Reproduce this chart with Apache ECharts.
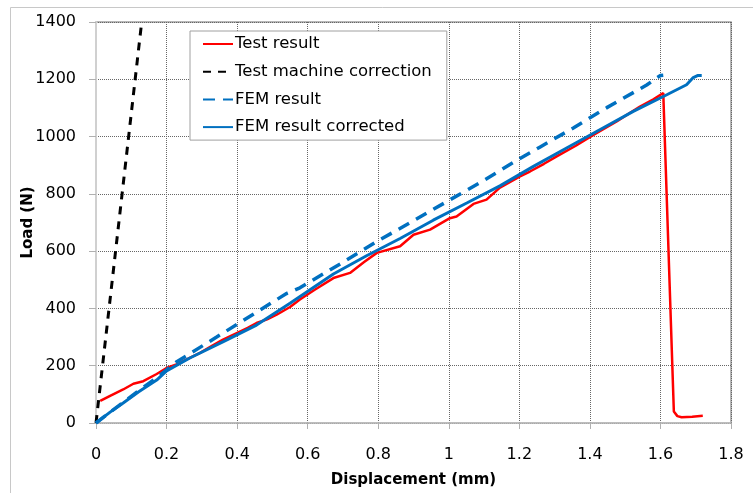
<!DOCTYPE html>
<html>
<head>
<meta charset="utf-8">
<script src="https://cdn.jsdelivr.net/npm/echarts@6/dist/echarts.min.js"></script>
<style>
html,body{margin:0;padding:0;background:#fff;}
#chart{width:753px;height:493px;}
</style>
</head>
<body>
<div id="chart"></div>
<script>
// ---- Data ----
const seriesNames = ['Test result', 'Test machine correction', 'FEM result', 'FEM result corrected'];
const xTicks = [0, 0.2, 0.4, 0.6, 0.8, 1, 1.2, 1.4, 1.6, 1.8];
const yTicks = [0, 200, 400, 600, 800, 1000, 1200, 1400];

const testResult = [
  [0.012,77],[0.04,95],[0.077,117],[0.106,137],[0.134,146],[0.172,171],[0.2,192],[0.23,205],
  [0.257,222],[0.295,245],[0.33,270],[0.36,291],[0.399,314],[0.43,332],[0.455,349],[0.485,362],
  [0.512,378],[0.55,405],[0.578,431],[0.62,465],[0.673,506],[0.72,524],[0.76,562],[0.796,594],
  [0.862,617],[0.9,657],[0.947,675],[1.003,715],[1.022,721],[1.07,765],[1.107,780],[1.145,822],
  [1.202,861],[1.23,878],[1.27,905],[1.306,931],[1.36,968],[1.41,1006],[1.476,1053],[1.542,1105],
  [1.58,1130],[1.608,1152],[1.613,1155],[1.638,40],[1.648,24],[1.66,20],[1.69,22],[1.72,25]
];
const machineCorrection = [[0,0],[0.1295,1400]];
const femResult = [
  [0,0],[0.04,38],[0.077,72],[0.12,112],[0.172,158],[0.229,214],[0.342,300],[0.446,380],
  [0.54,452],[0.578,472],[0.701,562],[0.805,640],[0.9,706],[1.003,779],[1.098,846],[1.197,920],
  [1.258,963],[1.353,1030],[1.448,1101],[1.561,1180],[1.59,1205],[1.6,1213],[1.608,1214]
];
const femCorrected = [
  [0,0],[0.04,38],[0.077,70],[0.12,108],[0.172,150],[0.2,182],[0.266,227],[0.361,284],
  [0.455,342],[0.55,418],[0.673,520],[0.767,584],[0.862,644],[0.956,708],[1.051,768],
  [1.145,828],[1.24,896],[1.334,960],[1.428,1024],[1.523,1088],[1.618,1146],[1.674,1181],
  [1.693,1206],[1.705,1213],[1.717,1213]
];

const FONT = 'DejaVu Sans';
const chart = echarts.init(document.getElementById('chart'), null, {renderer: 'canvas'});
const option = {
  animation: false,
  backgroundColor: '#fff',
  graphic: [{
    type: 'rect', silent: true, z: -10,
    shape: {x: 10.5, y: 7.5, width: 900, height: 700},
    style: {fill: 'none', stroke: '#c8c8c8', lineWidth: 1}
  }],
  grid: {
    left: 96, right: 22, top: 22, bottom: 69,
    show: true, borderColor: '#a0a0a0', borderWidth: 1.5, backgroundColor: 'transparent'
  },
  legend: {
    data: seriesNames,
    orient: 'vertical',
    left: 190, top: 31,
    padding: [4, 15, 4, 12],
    itemWidth: 30, itemHeight: 14, itemGap: 9.7,
    itemStyle: {opacity: 0},
    backgroundColor: '#fff',
    borderColor: '#a0a0a0', borderWidth: 1,
    textStyle: {fontFamily: FONT, fontSize: 16.5, lineHeight: 18, color: '#000', padding: [0,0,0,-3]}
  },
  xAxis: {
    type: 'value', min: 0, max: 1.8, interval: 0.2,
    name: 'Displacement (mm)', nameLocation: 'middle', nameGap: 50, nameMoveOverlap: false,
    nameTextStyle: {fontFamily: FONT, fontSize: 15, fontWeight: 'bold', color: '#000'},
    axisLine: {show: true, lineStyle: {color: '#c0c0c0', width: 1.5}},
    axisTick: {show: true, length: 6, lineStyle: {color: '#b0b0b0'}},
    axisLabel: {fontFamily: FONT, fontSize: 16, color: '#000', margin: 24,
      formatter: v => String(+v.toFixed(1))},
    splitLine: {show: true, lineStyle: {type: 'dotted', color: '#666', width: 1}}
  },
  yAxis: {
    type: 'value', min: 0, max: 1400, interval: 200,
    name: 'Load (N)', nameLocation: 'middle', nameGap: 60, nameMoveOverlap: false,
    nameTextStyle: {fontFamily: FONT, fontSize: 15, fontWeight: 'bold', color: '#000'},
    axisLine: {show: true, lineStyle: {color: '#d0d0d0', width: 2}},
    axisTick: {show: true, length: 7, lineStyle: {color: '#b0b0b0'}},
    axisLabel: {fontFamily: FONT, fontSize: 16, color: '#000', margin: 20,
      formatter: v => String(v)},
    splitLine: {show: true, lineStyle: {type: 'dotted', color: '#666', width: 1}}
  },
  series: [
    {name: seriesNames[0], type: 'line', data: testResult, showSymbol: false, symbol: 'none',
     lineStyle: {color: '#ff0000', width: 2.5}, itemStyle: {color: '#ff0000'}, clip: true},
    {name: seriesNames[1], type: 'line', data: machineCorrection, showSymbol: false, symbol: 'none',
     lineStyle: {color: '#000', width: 3, type: [8, 7]}, itemStyle: {color: '#000'}, clip: true},
    {name: seriesNames[2], type: 'line', data: femResult, showSymbol: false, symbol: 'none',
     lineStyle: {color: '#0070c0', width: 3.5, type: [12, 8]}, itemStyle: {color: '#0070c0'}, clip: true},
    {name: seriesNames[3], type: 'line', data: femCorrected, showSymbol: false, symbol: 'none',
     lineStyle: {color: '#0070c0', width: 3}, itemStyle: {color: '#0070c0'}, clip: true}
  ]
};
chart.setOption(option);
</script>
</body>
</html>
